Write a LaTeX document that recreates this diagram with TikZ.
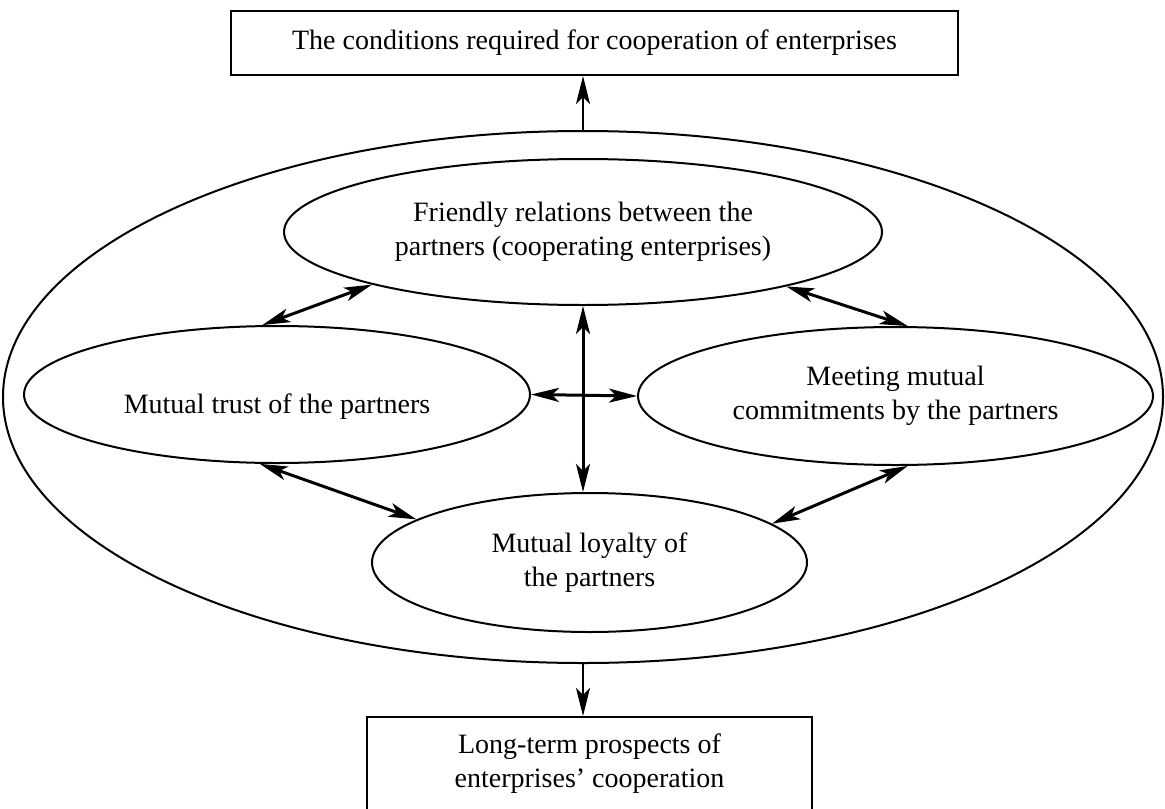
\documentclass[tikz,border=0pt]{standalone}
\usepackage{fontspec}
\setmainfont{Liberation Serif}
\usetikzlibrary{arrows.meta, shapes.geometric}

\begin{document}
\begin{tikzpicture}[
    x=0.5pt, y=-0.5pt,
    every node/.style={font=\fontsize{14}{17}\selectfont},
    box/.style={draw, line width=1pt, align=center, inner sep=0pt},
    oval/.style={ellipse, draw, line width=1pt, align=center, inner sep=0pt},
    arr/.style={-{Stealth[length=14pt, width=7pt, inset=3.5pt]}, line width=1.2pt},
    biarr/.style={{Stealth[length=14pt, width=7pt, inset=3.5pt]}-{Stealth[length=14pt, width=7pt, inset=3.5pt]}, line width=1.5pt}
]
    \useasboundingbox (0,0) rectangle (1165,808);

    % Boxes
    \node[box, minimum width=363.5pt, minimum height=32pt] (cond) at (594.5,43) {The conditions required for cooperation of enterprises};
    \node[box, minimum width=222.5pt, minimum height=46.5pt] (prosp) at (589.5,763.5) {Long-term prospects of\\enterprises' cooperation};

    % Ellipses
    \node[oval, minimum width=580pt, minimum height=266pt] (outer) at (583,397) {};
    \node[oval, minimum width=299pt, minimum height=73pt] (friend) at (583,232) {Friendly relations between the\\partners (cooperating enterprises)};
    \node[oval, minimum width=253pt, minimum height=68.5pt, text height=22pt, text depth=3pt] (trust) at (277,394.5) {Mutual trust of the partners};
    \node[oval, minimum width=257.5pt, minimum height=69pt] (commit) at (895.5,396) {Meeting mutual\\commitments by the partners};
    \node[oval, minimum width=217.5pt, minimum height=69.5pt] (loyal) at (589.5,562.5) {Mutual loyalty of\\the partners};

    % Connections
    \draw[arr] (outer.north) -- (outer.north |- cond.south);
    \draw[arr] (outer.south) -- (outer.south |- prosp.north);
    \draw[biarr] (trust.102) -- (friend.194);
    \draw[biarr] (friend.-15) -- (commit.80);
    \draw[biarr] (trust.256) -- (loyal.166);
    \draw[biarr] (commit.280) -- (loyal.12);
    \draw[biarr] (friend.south) -- (loyal.north -| friend.south);
    \draw[biarr] (trust.east) -- (commit.west);
\end{tikzpicture}
\end{document}
